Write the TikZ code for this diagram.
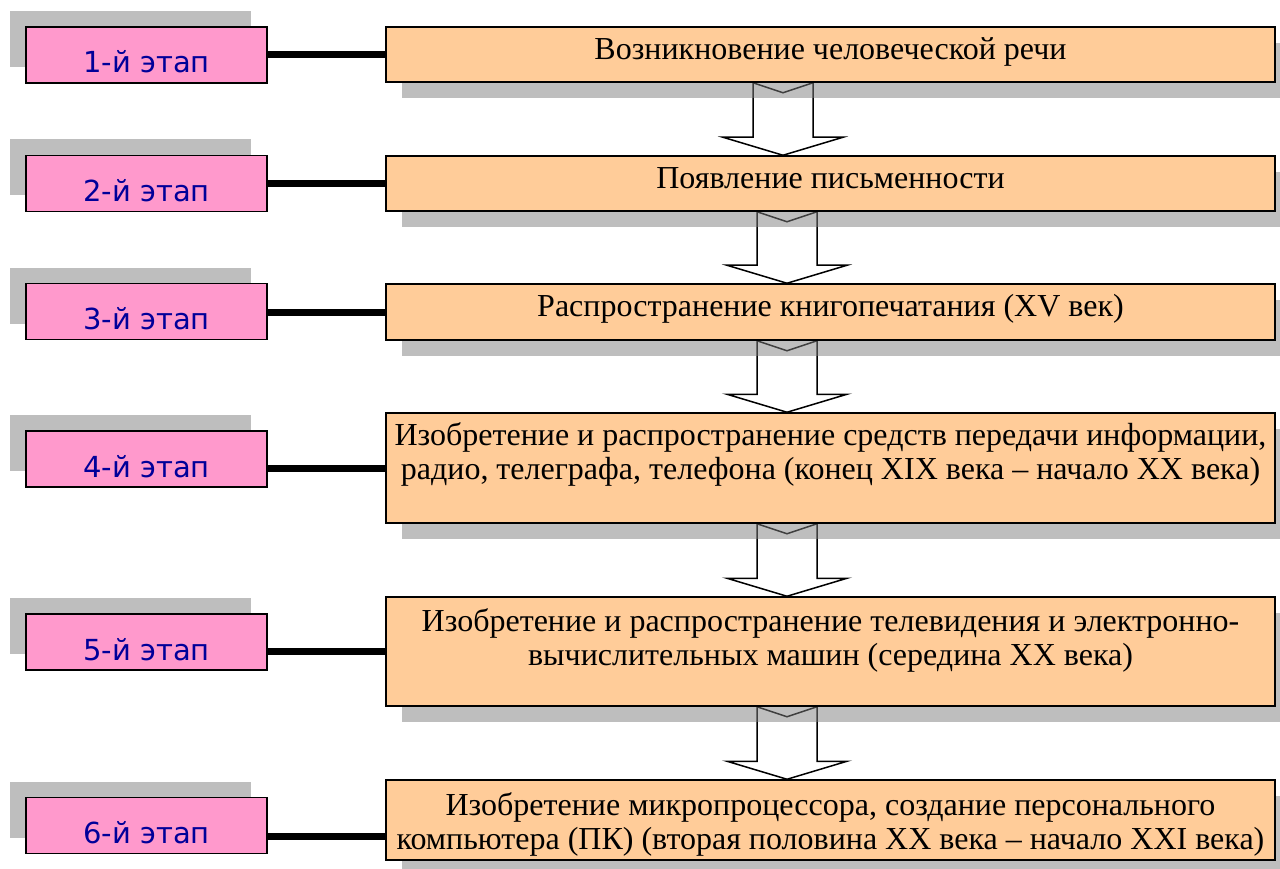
\documentclass[tikz,border=0pt]{standalone}
\usepackage{fontspec}
\setmainfont{Liberation Serif}
\newfontfamily\stagefont{DejaVu Sans}
\usetikzlibrary{calc,shadows}
\pgfdeclarelayer{arrowlayer}
\pgfsetlayers{arrowlayer,main}
\definecolor{pinkfill}{HTML}{FF99CC}
\definecolor{orangefill}{HTML}{FFCC99}
\definecolor{stageblue}{HTML}{000099}
\definecolor{shadowgray}{HTML}{7F7F7F}
\newcommand{\evtext}[2]{\raisebox{#1}[0pt][0pt]{\begin{tabular}[t]{@{}c@{}}#2\end{tabular}}}
\newcommand{\stagetext}[1]{\raisebox{-18pt}[0pt][0pt]{#1}}
\newcommand{\blockarrow}[3]{%
  \draw[blockarrow] let \p1=(#1.south), \p2=(#2.north) in
  ({(#3-30)*1pt},{\y1}) -- ({#3*1pt},{\y1-10pt}) -- ({(#3+30)*1pt},{\y1})
  -- ({(#3+30)*1pt},{\y2+18pt}) -- ({(#3+60)*1pt},{\y2+18pt}) -- ({#3*1pt},{\y2})
  -- ({(#3-60)*1pt},{\y2+18pt}) -- ({(#3-30)*1pt},{\y2+18pt}) -- cycle;}
\begin{document}
\begin{tikzpicture}[x=1pt,y=-1pt,
  stagebox/.style={draw=black, line width=1.5pt, fill=pinkfill, minimum width=241pt,
    minimum height=56pt, inner sep=0pt, text=stageblue,
    font=\stagefont\fontsize{29}{34}\selectfont,
    drop shadow={shadow xshift=-16pt, shadow yshift=16pt, fill=shadowgray, opacity=0.5}},
  eventbox/.style={draw=black, line width=1.5pt, fill=orangefill, minimum width=889pt,
    inner sep=0pt, font=\fontsize{32}{34}\selectfont,
    drop shadow={shadow xshift=16pt, shadow yshift=-16pt, fill=shadowgray, opacity=0.5}},
  link/.style={line width=7pt},
  blockarrow/.style={draw=black, line width=1.5pt, fill=white, line join=miter}]
\useasboundingbox (0,0) rectangle (1280,869);

% stage boxes
\node[stagebox] (p1) at (146.5,55)    {\stagetext{1-й этап}};
\node[stagebox] (p2) at (146.5,183.5) {\stagetext{2-й этап}};
\node[stagebox] (p3) at (146.5,311.5) {\stagetext{3-й этап}};
\node[stagebox] (p4) at (146.5,459)   {\stagetext{4-й этап}};
\node[stagebox] (p5) at (146.5,642)   {\stagetext{5-й этап}};
\node[stagebox] (p6) at (146.5,825.5) {\stagetext{6-й этап}};

% event boxes
\node[eventbox, minimum height=55pt] (o1) at (830.5,54.5)
  {\evtext{-5.5pt}{Возникновение человеческой речи}};
\node[eventbox, minimum height=55pt] (o2) at (830.5,183.5)
  {\evtext{-5.5pt}{Появление письменности}};
\node[eventbox, minimum height=56pt] (o3) at (830.5,312)
  {\evtext{-5pt}{Распространение книгопечатания (XV век)}};
\node[eventbox, minimum height=110pt] (o4) at (830.5,468)
  {\evtext{23pt}{Изобретение и распространение средств передачи информации,\\
   радио, телеграфа, телефона (конец XIX века – начало XX века)}};
\node[eventbox, minimum height=109pt] (o5) at (830.5,651.5)
  {\evtext{20pt}{Изобретение и распространение телевидения и электронно-\\
   вычислительных машин (середина XX века)}};
\node[eventbox, minimum height=80pt] (o6) at (830.5,820)
  {\evtext{5pt}{Изобретение микропроцессора, создание персонального\\
   компьютера (ПК) (вторая половина XX века – начало XXI века)}};

% links
\coordinate (l6) at ($(p6.east)+(0,10.5)$);
\draw[link] (p1.east |- o1.west) -- (o1.west);
\draw[link] (p2.east |- o2.west) -- (o2.west);
\draw[link] (p3.east |- o3.west) -- (o3.west);
\draw[link] (p4.east |- o4.west) -- (o4.west);
\draw[link] (p5.east |- o5.west) -- (o5.west);
\draw[link] (l6) -- (l6 -| o6.west);

% block arrows
\begin{pgfonlayer}{arrowlayer}
\fill[white] (0,0) rectangle (1280,869);
\blockarrow{o1}{o2}{783}
\blockarrow{o2}{o3}{787}
\blockarrow{o3}{o4}{787}
\blockarrow{o4}{o5}{787}
\blockarrow{o5}{o6}{787}
\end{pgfonlayer}
\end{tikzpicture}
\end{document}
